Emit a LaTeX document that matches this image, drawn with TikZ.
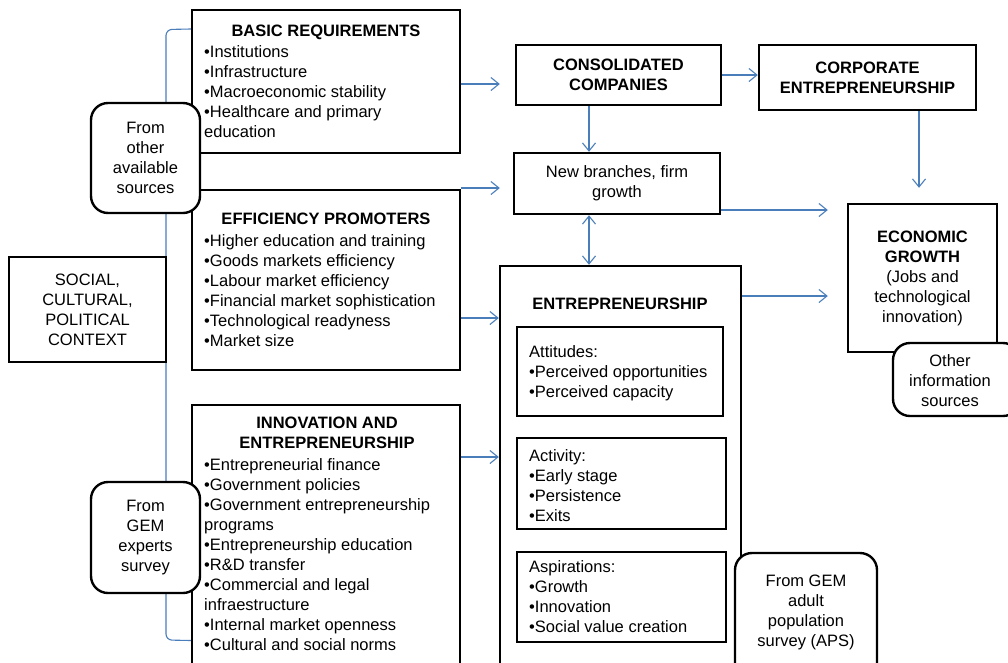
\documentclass[tikz,border=0pt]{standalone}
\usepackage{fontspec}
\setmainfont{Liberation Sans}
\usetikzlibrary{arrows.meta}
\definecolor{lnblue}{HTML}{4A7EBB}
\begin{document}
\begin{tikzpicture}[x=1pt,y=-1pt,
  fnt/.style={font=\fontsize{16.5}{20}\selectfont},
  box/.style={draw, line width=2.4pt, fill=white, inner sep=0pt, fnt},
  rbox/.style={box, rounded corners=17pt},
  txt/.style={inner sep=0pt, fnt, align=left, anchor=north west},
  ttl/.style={inner sep=0pt, font=\fontsize{16.5}{20}\selectfont\bfseries, align=center, anchor=north},
  ctx/.style={inner sep=0pt, fnt, align=center, anchor=north},
  arr/.style={draw=lnblue, line width=1.1pt, -{Straight Barb[length=8pt,width=13pt,line width=1.1pt]}},
  darr/.style={draw=lnblue, line width=1.1pt, {Straight Barb[length=8pt,width=13pt,line width=1.1pt]}-{Straight Barb[length=8pt,width=13pt,line width=1.1pt]}},
  brk/.style={draw=lnblue, line width=1.1pt, rounded corners=6pt}]
\useasboundingbox (0,0) rectangle (1008,662);
\clip (0,0) rectangle (1008,662);

% main boxes
\node[box, minimum width=268pt, minimum height=143pt] (basic) at (326,81.5) {};
\node[box, minimum width=268pt, minimum height=180pt] (eff) at (326,280) {};
\node[box, minimum width=268pt, minimum height=295pt] (innov) at (326,552.5) {};

% bracket
\draw[brk] (basic.west |- 0,29) -- (166,29.5) -- (166,640) -- (innov.west |- 0,640.5);

\node[box, minimum width=157pt, minimum height=105pt, align=center] (social) at (87.5,309.5) {SOCIAL,\\CULTURAL,\\POLITICAL\\CONTEXT};

\node[box, minimum width=205pt, minimum height=60pt, font=\fontsize{16.5}{20}\selectfont\bfseries, align=center] (consol) at (618.5,75) {CONSOLIDATED\\COMPANIES};
\node[box, minimum width=217pt, minimum height=65pt, font=\fontsize{16.5}{20}\selectfont\bfseries, align=center] (corp) at (867.5,77.5) {CORPORATE\\ENTREPRENEURSHIP};
\node[box, minimum width=206pt, minimum height=61pt, align=center] (newbr) at (617,183.5) {New branches, firm\\growth};
\node[box, minimum width=149pt, minimum height=148pt, align=center] (econ) at (922.5,278) {\textbf{ECONOMIC}\\\textbf{GROWTH}\\(Jobs and\\technological\\innovation)};
\node[box, minimum width=241pt, minimum height=434pt] (entre) at (620.5,483) {};
\node[box, minimum width=206pt, minimum height=89pt] (att) at (620,371.5) {};
\node[box, minimum width=209pt, minimum height=91pt] (act) at (621.5,483.5) {};
\node[box, minimum width=209pt, minimum height=90pt] (asp) at (621.5,597) {};

% rounded source boxes
\node[rbox, minimum width=109pt, minimum height=110pt, align=center] (fromother) at (145.5,158) {From\\other\\available\\sources};
\node[rbox, minimum width=109pt, minimum height=111pt, align=center] (gemexp) at (145.5,537.5) {From\\GEM\\experts\\survey};
\node[rbox, minimum width=127pt, minimum height=73pt] (otherinfo) at (956.5,379.5) {};
\node[rbox, minimum width=142pt, minimum height=137pt] (aps) at (806,621.5) {};

% texts
\node[ttl] (basicT) at (326,22.5) {\strut BASIC REQUIREMENTS};
\node[txt] (basicL) at (204,43.5) {\strut•Institutions\\•Infrastructure\\•Macroeconomic stability\\•Healthcare and primary\\education};
\node[ttl] (effT) at (326,210.5) {\strut EFFICIENCY PROMOTERS};
\node[txt] (effL) at (204,232) {\strut•Higher education and training\\•Goods markets efficiency\\•Labour market efficiency\\•Financial market sophistication\\•Technological readyness\\•Market size};
\node[ttl] (innovT) at (327,414.5) {\strut INNOVATION AND\\ENTREPRENEURSHIP};
\node[txt] (innovL) at (204,456) {\strut•Entrepreneurial finance\\•Government policies\\•Government entrepreneurship\\programs\\•Entrepreneurship education\\•R\&D transfer\\•Commercial and legal\\infraestructure\\•Internal market openness\\•Cultural and social norms};
\node[ttl] (entreT) at (620,295.5) {\strut ENTREPRENEURSHIP};
\node[txt] (attL) at (529,343.5) {\strut Attitudes:\\•Perceived opportunities\\•Perceived capacity};
\node[txt] (actL) at (529,447.5) {\strut Activity:\\•Early stage\\•Persistence\\•Exits};
\node[txt] (aspL) at (529,558.5) {\strut Aspirations:\\•Growth\\•Innovation\\•Social value creation};
\node[ctx] (apsT) at (806,572.5) {\strut From GEM\\adult\\population\\survey (APS)};
\node[ctx] (otherT) at (950,352.5) {\strut Other\\information\\sources};

% arrows
\draw[arr, shorten >=15pt] (basic.east |- 0,84) -- (consol.west |- 0,84);
\draw[arr, shorten >=13pt] (eff.east |- 0,188) -- (newbr.west |- 0,188);
\draw[arr] (eff.east |- 0,318) -- (entre.west |- 0,318);
\draw[arr] (innov.east |- 0,457) -- (entre.west |- 0,457);
\draw[arr] (consol.south -| 589,0) -- (newbr.north -| 589,0);
\draw[arr] (consol.east |- 0,75) -- (corp.west |- 0,75);
\draw[arr, shorten >=15pt] (corp.south -| 919,0) -- (econ.north -| 919,0);
\draw[arr, shorten >=19pt] (newbr.east |- 0,210) -- (econ.west |- 0,210);
\draw[darr] (newbr.south -| 589,0) -- (entre.north -| 589,0);
\draw[arr, shorten >=19pt] (entre.east |- 0,296) -- (econ.west |- 0,296);
\end{tikzpicture}
\end{document}
